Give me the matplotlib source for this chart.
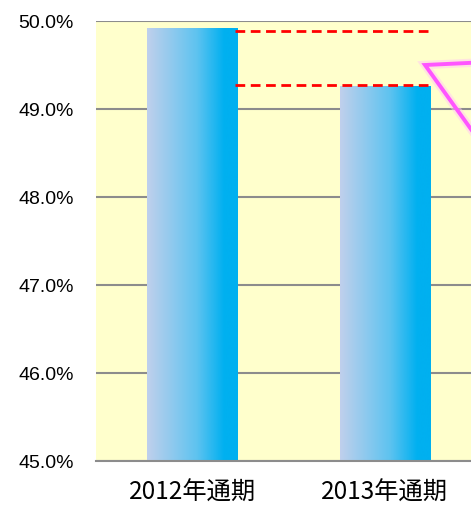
import numpy as np
import matplotlib
matplotlib.use("Agg")
import matplotlib.pyplot as plt
from matplotlib.colors import LinearSegmentedColormap
from matplotlib.patches import Rectangle
from matplotlib.lines import Line2D

categories = ["2012年通期", "2013年通期"]
values = [49.92, 49.26]
ref_lines = [49.89, 49.27]
yticks = [45.0, 46.0, 47.0, 48.0, 49.0, 50.0]

W, H = 471, 506
fig = plt.figure(figsize=(W / 100, H / 100), dpi=100)
fig.patch.set_facecolor("white")
ax = fig.add_axes([96 / W, 44 / H, 1 - 96 / W, 440 / H])
ax.set_facecolor("#FFFFCC")
ax.set_xlim(-0.5, 1.447)
ax.set_ylim(45.0, 50.0)

for y in yticks:
    ax.axhline(y, color="#8C8C8C", lw=1.5, zorder=1)

cmap = LinearSegmentedColormap.from_list(
    "g", [(0, "#C0D0EC"), (0.55, "#5EC3F0"), (0.85, "#00B0F0"), (1.0, "#00B0F0")])
grad = np.linspace(0, 1, 256).reshape(1, -1)
width = 0.47
x = np.arange(len(categories))
bars = ax.bar(x, values, width=width, bottom=0, color="none", zorder=2)
for b in bars:
    x0, y0 = b.get_x(), 45.0
    x1, y1 = b.get_x() + b.get_width(), b.get_height()
    im = ax.imshow(grad, cmap=cmap, aspect="auto", extent=[x0, x1, y0, y1],
                   zorder=2, interpolation="bicubic")
    clip = Rectangle((x0, y0), x1 - x0, y1 - y0, transform=ax.transData)
    im.set_clip_path(clip)

ax.set_xlim(-0.5, 1.447)
ax.set_ylim(45.0, 50.0)

x_start = x[0] + 0.22
x_end = x[1] + 0.223
for v in ref_lines:
    ax.plot([x_start, x_end], [v, v], color="#FF0000", lw=2.0,
            dashes=(3.5, 2.0), zorder=4)

ax.set_yticks(yticks)
ax.set_yticklabels([f"{t:.1f}%" for t in yticks], fontsize=14,
                   family=["Liberation Sans", "DejaVu Sans"])
ax.set_xticks(x)
ax.set_xticklabels(categories, fontsize=17.5,
                   family=["Noto Sans CJK JP", "DejaVu Sans"])
ax.tick_params(axis="both", length=0)
ax.tick_params(axis="y", pad=16)
ax.tick_params(axis="x", pad=13)
for s in ["top", "right", "left"]:
    ax.spines[s].set_visible(False)
ax.spines["bottom"].set_color("#8C8C8C")
ax.spines["bottom"].set_linewidth(1.5)

# pink callout triangle (partially visible)
px = [(478 / W, 1 - 63.5 / H), (425 / W, 1 - 66 / H), (478 / W, 1 - 140 / H)]
xs = [p[0] for p in px]
ys = [p[1] for p in px]
fig.add_artist(Line2D(xs, ys, transform=fig.transFigure, color="#FFC8F4",
                      lw=6, alpha=0.5, solid_joinstyle="miter", zorder=5))
fig.add_artist(Line2D(xs, ys, transform=fig.transFigure, color="#FF55FF",
                      lw=2.8, solid_joinstyle="miter", zorder=6))

fig.savefig("out.png", dpi=100)
